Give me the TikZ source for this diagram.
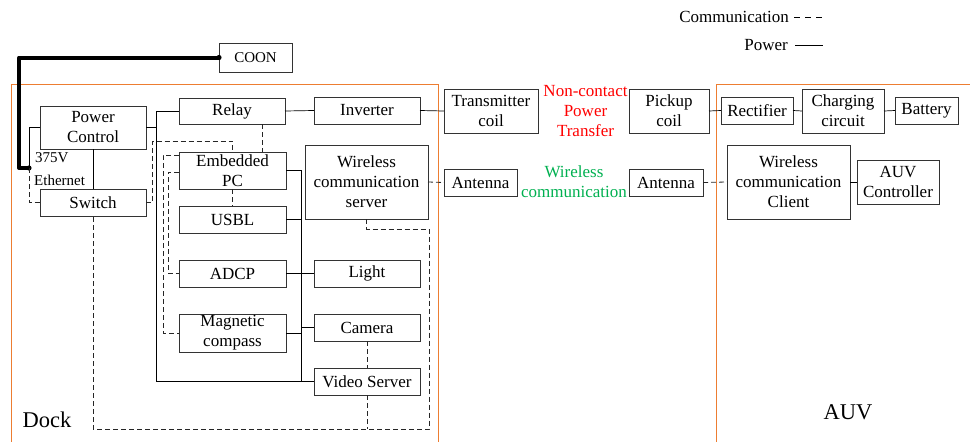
\documentclass[tikz,border=0pt]{standalone}
\usepackage{fontspec}
\setmainfont{Liberation Serif}
\usetikzlibrary{calc}
\definecolor{frameorange}{RGB}{237,125,49}
\definecolor{ncred}{RGB}{255,0,0}
\definecolor{wlgreen}{RGB}{0,176,80}

\begin{document}
\begin{tikzpicture}[x=1pt,y=-1pt,
  box/.style={draw=black!80, line width=0.8pt, inner sep=0pt, outer sep=0pt,
              align=center, font=\fontsize{17}{20}\selectfont},
  power/.style={draw=black, line width=0.7pt},
  comm/.style={draw=black!85, line width=0.8pt, dash pattern=on 5pt off 3pt},
  frame/.style={draw=frameorange, line width=0.9pt},
  cable/.style={draw=black, line width=4pt, line cap=round, line join=round},
  lbl/.style={inner sep=0pt, align=center, font=\fontsize{17}{20}\selectfont},
  small/.style={inner sep=0pt, font=\fontsize{15}{18}\selectfont},
  big/.style={inner sep=0pt, font=\fontsize{22.5}{26}\selectfont},
]
\useasboundingbox (0,0) rectangle (970,442);

% ---------- section frames ----------
\draw[frame] (11,442) -- (11,84) -- (438,84) -- (438,442);
\draw[frame] (716,442) -- (716,84) -- (970,84);
\node[big] (dock) at (47,420) {Dock};
\node[big] (auv) at (848,412) {AUV};

% ---------- legend ----------
\node[lbl, anchor=east] (legc) at (789,17) {Communication};
\node[lbl, anchor=east] (legp) at (788,45) {Power};
\draw[line width=0.8pt, dash pattern=on 6pt off 5pt] ($(legc.east)+(5,0)$) -- ++(29,0);
\draw[line width=0.8pt] ($(legp.east)+(7,0)$) -- ++(28,0);

% ---------- dock side ----------
\node[box, minimum width=73pt, minimum height=29pt, font=\fontsize{15}{18}\selectfont] (coon) at (255.5,57.5) {COON};
\node[box, minimum width=106pt, minimum height=43pt] (pc) at (93,127.5) {Power\\Control};
\node[box, minimum width=106pt, minimum height=27pt] (sw) at (93,202.5) {Switch};
\node[box, minimum width=106pt, minimum height=26pt] (relay) at (232,111) {Relay};
\node[box, minimum width=106pt, minimum height=27pt] (inv) at (367,110.5) {Inverter};
\node[box, minimum width=107pt, minimum height=37pt] (emb) at (232.5,170.5) {Embedded\\PC};
\node[box, minimum width=107pt, minimum height=27pt] (usbl) at (232.5,219.5) {USBL};
\node[box, minimum width=107pt, minimum height=27pt] (adcp) at (232.5,273.5) {ADCP};
\node[box, minimum width=107pt, minimum height=38pt] (mag) at (232.5,333) {Magnetic\\compass};
\node[box, minimum width=123pt, minimum height=74pt] (srv) at (366.5,182) {Wireless\\communication\\server};
\node[box, minimum width=106pt, minimum height=27pt] (light) at (367,273.5) {Light};
\node[box, minimum width=106pt, minimum height=27pt] (cam) at (367,327.5) {Camera};
\node[box, minimum width=106pt, minimum height=27pt] (vs) at (367,381.5) {Video Server};

\node[small, anchor=west] (v375) at (35,158) {375V};
\node[small, anchor=west] (eth) at (34,180) {Ethernet};

% ---------- link between the two sides ----------
\node[box, minimum width=94pt, minimum height=44pt] (tx) at (491,111) {Transmitter\\coil};
\node[box, minimum width=80pt, minimum height=44pt] (pick) at (669,111) {Pickup\\coil};
\node[box, minimum width=73pt, minimum height=27pt] (antl) at (480.5,182.5) {Antenna};
\node[box, minimum width=74pt, minimum height=27pt] (antr) at (666,182.5) {Antenna};
\node[lbl, text=ncred] (nct) at (585.5,111) {Non-contact\\Power\\Transfer};
\node[lbl, text=wlgreen] (wlc) at (574,182) {Wireless\\communication};

% ---------- AUV side ----------
\node[box, minimum width=72pt, minimum height=27pt] (rect) at (757,110.5) {Rectifier};
\node[box, minimum width=82pt, minimum height=44pt] (chg) at (843,111) {Charging\\circuit};
\node[box, minimum width=63pt, minimum height=27pt] (bat) at (926.5,110.5) {Battery};
\node[box, minimum width=123pt, minimum height=74pt] (cli) at (788.5,182) {Wireless\\communication\\Client};
\node[box, minimum width=82pt, minimum height=44pt] (auvc) at (898,182) {AUV\\Controller};

% ---------- shore cable ----------
\coordinate (tap) at (29,168);
\coordinate (cablecorner) at (19,168);
\draw[cable] (coon.west) -| (cablecorner) -- (tap);
\fill (coon.west) circle (2.6pt);
\fill (tap) circle (2.6pt);

% ---------- power lines ----------
\draw[power] (pc.west) -| (tap);
\draw[power] (pc.south) -- (sw.north);
\coordinate (lbus) at ($(pc.east)+(10,0)$);
\draw[power] (pc.east) -- (lbus) |- (relay.west);
\draw[power] (lbus) |- (vs.west);
\draw[power] (relay.east) -- (inv.west);
\draw[power] (inv.east) -- (tx.west);
\coordinate (rbus) at ($(emb.east)+(15,0)$);
\draw[power] (emb.east) -- (rbus) -- (rbus |- vs.west);
\draw[power] (usbl.east) -- (usbl.east -| rbus);
\draw[power] (adcp.east) -- (light.west);
\draw[power] (mag.east) -- (mag.east -| rbus);
\draw[power] (cam.west -| rbus) -- (cam.west);
\draw[power] (pick.east) -- (rect.west);
\draw[power] (rect.east) -- (chg.west);
\draw[power] (chg.east) -- (bat.west);
\draw[power] (cli.east) -- (auvc.west);

% ---------- communication lines ----------
\draw[comm] (tap) |- (sw.west);
\draw[comm] ([xshift=30pt]relay.south) -- ([xshift=29.5pt]emb.north);
\draw[comm] (emb.south) -- (usbl.north);
\draw[comm] (sw.east) -- ++(6,0) |- ($(emb.north)+(0,-11)$) -- (emb.north);
\draw[comm] ($(emb.north west)+(0,3)$) -- ++(-16,0) |- (mag.west);
\draw[comm] ($(emb.north west)+(0,20)$) -- ++(-11,0) |- (adcp.west);
\draw[comm] (srv.east) -- (antl.west);
\draw[comm] (antr.east) -- (cli.west);
\coordinate (loopne) at (429,229);
\coordinate (loopse) at (429,429);
\draw[comm] (srv.south) |- (loopne) -- (loopse) -- (sw.south |- loopse) -- (sw.south);
\draw[comm] (cam.south) -- (vs.north);
\draw[comm] (vs.south) -- (vs.south |- loopse);
\end{tikzpicture}
\end{document}
